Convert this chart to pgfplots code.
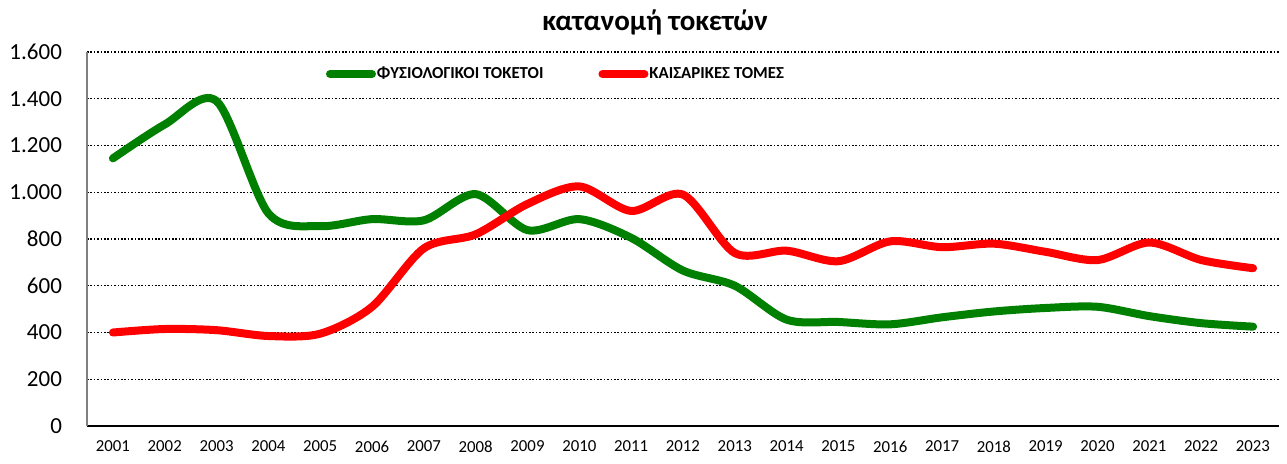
\documentclass[border=0pt]{standalone}
\usepackage{fontspec}
\setmainfont{Carlito}
\usepackage{pgfplots}
\pgfplotsset{compat=1.18}
\definecolor{fysio}{RGB}{0,128,0}
\definecolor{kais}{RGB}{255,0,0}

\begin{document}
\begin{tikzpicture}
\useasboundingbox (-43.5pt,-18.5pt) rectangle (600pt,213pt);
\begin{axis}[
  at={(0pt,0pt)}, anchor=south west,
  scale only axis,
  width=596pt, height=187pt,
  xmin=2000.5, xmax=2023.5,
  ymin=0, ymax=1600,
  xtick={2001,...,2023},
  ytick={0,200,...,1600},
  axis x line*=bottom, axis y line*=left,
  x axis line style={black, line width=0.6pt, -},
  y axis line style={gray, line width=0.8pt, -},
  major tick length=0pt,
  ymajorgrids,
  grid style={black, line width=0.7pt, dash pattern=on 0.8pt off 0.9pt},
  /pgf/number format/assume math mode=true,
  x tick label style={font=\fontsize{8.4}{10}\selectfont, /pgf/number format/1000 sep={}, yshift=-4pt},
  y tick label style={font=\fontsize{11.5}{13}\selectfont, /pgf/number format/1000 sep={.}, xshift=-9pt},
  legend style={at={(0.393,0.941)}, anchor=center, draw=none, fill=none,
    legend columns=2, font=\bfseries\fontsize{8.4}{10}\selectfont,
    /tikz/every even column/.append style={column sep=27pt},
    nodes={inner xsep=0.5pt},
    inner sep=0pt},
  legend image code/.code={\draw[line width=4pt, line cap=round] (0pt,0pt) -- (21pt,0pt);},
]
\addplot[fysio, line width=4pt, line cap=round, smooth, tension=0.5]
  coordinates {(2001,1145) (2002,1290) (2003,1390) (2004,910) (2005,855)
               (2006,885) (2007,880) (2008,992) (2009,838) (2010,885)
               (2011,805) (2012,665) (2013,600) (2014,455) (2015,445)
               (2016,435) (2017,465) (2018,490) (2019,505) (2020,510)
               (2021,470) (2022,440) (2023,425)};
\addlegendentry{ΦΥΣΙΟΛΟΓΙΚΟΙ ΤΟΚΕΤΟΙ}
\addplot[kais, line width=4pt, line cap=round, smooth, tension=0.5]
  coordinates {(2001,400) (2002,415) (2003,410) (2004,385) (2005,395)
               (2006,510) (2007,760) (2008,820) (2009,950) (2010,1025)
               (2011,920) (2012,990) (2013,740) (2014,750) (2015,705)
               (2016,790) (2017,765) (2018,780) (2019,745) (2020,710)
               (2021,785) (2022,710) (2023,675)};
\addlegendentry{ΚΑΙΣΑΡΙΚΕΣ ΤΟΜΕΣ}
\end{axis}
\node[font=\bfseries\fontsize{14.5}{16}\selectfont] at (284pt,202pt) {κατανομή τοκετών};
\end{tikzpicture}
\end{document}
